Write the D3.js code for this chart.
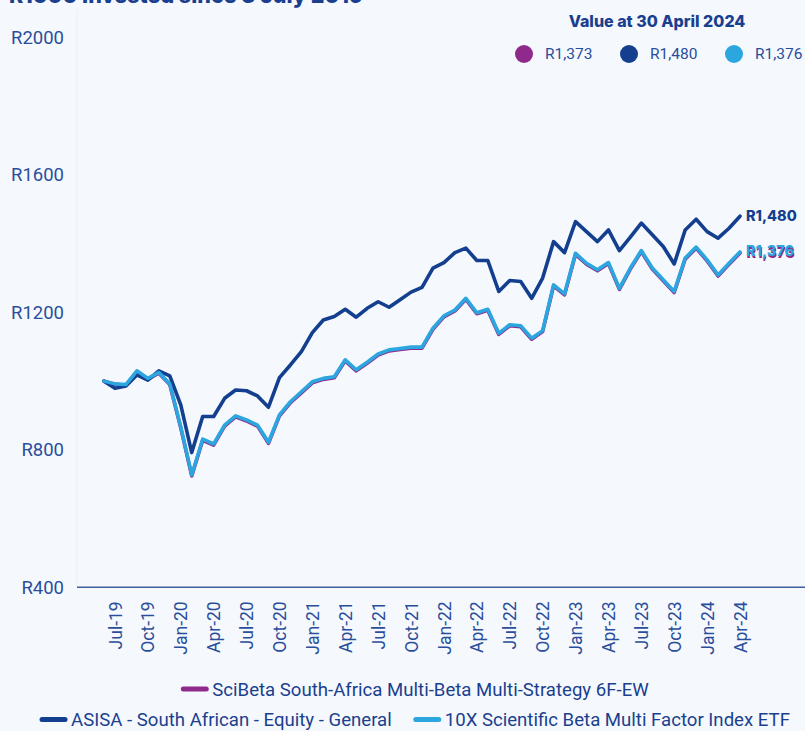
<!DOCTYPE html>
<html>
<head>
<meta charset="utf-8">
<script src="https://cdn.jsdelivr.net/npm/d3@7"></script>
<style>
  html, body { margin: 0; padding: 0; background: #f5f9fe; }
  svg { display: block; }
</style>
</head>
<body>
<div id="chart"></div>
<script>
// monthly values of R1000 invested, Jun-19 .. Apr-24
const months = d3.timeMonth.range(new Date(2019, 5, 1), new Date(2024, 4, 1)).map(d3.timeFormat('%b-%y'));

const scibeta = [1000, 991, 988, 1028, 1006, 1023, 990, 864, 724, 828, 814, 869, 896, 884, 869, 819, 899, 937, 966, 995,
  1005, 1010, 1059, 1030, 1052, 1076, 1088, 1092, 1096, 1096, 1151, 1187, 1204, 1238, 1196, 1206, 1136, 1161, 1158, 1122,
  1144, 1277, 1251, 1369, 1340, 1321, 1342, 1267, 1326, 1377, 1326, 1292, 1258, 1355, 1387, 1350, 1306, 1340, 1373];
const asisa = [1000, 979, 986, 1018, 1003, 1030, 1015, 931, 792, 897, 897, 950, 974, 972, 957, 924, 1010, 1047, 1086, 1141,
  1178, 1188, 1209, 1186, 1212, 1231, 1215, 1237, 1259, 1273, 1329, 1345, 1374, 1387, 1351, 1351, 1261, 1293, 1290, 1241,
  1300, 1406, 1374, 1464, 1435, 1406, 1440, 1380, 1419, 1460, 1426, 1392, 1341, 1440, 1471, 1435, 1416, 1445, 1480];
const tenx = [1000, 992, 990, 1030, 1008, 1025, 992, 867, 727, 831, 817, 872, 899, 887, 872, 822, 902, 940, 969, 998,
  1008, 1013, 1062, 1033, 1055, 1079, 1091, 1095, 1099, 1099, 1154, 1190, 1207, 1241, 1199, 1209, 1139, 1164, 1161, 1125,
  1147, 1280, 1254, 1372, 1343, 1324, 1345, 1270, 1329, 1380, 1329, 1295, 1261, 1358, 1390, 1353, 1309, 1343, 1376];

const yTicks = [400, 800, 1200, 1600, 2000];
const seriesNames = ['SciBeta South-Africa Multi-Beta Multi-Strategy 6F-EW', 'ASISA - South African - Equity - General', '10X Scientific Beta Multi Factor Index ETF'];
const seriesColors = ['#8f2a8c', '#133f8e', '#2ba6df'];
const series = [scibeta, asisa, tenx];

const W = 805, H = 731;
const navy = '#1b3f8f';
const textBlue = '#2a4e9b';

const svg = d3.select('#chart').append('svg').attr('width', W).attr('height', H);
svg.append('rect').attr('width', W).attr('height', H).attr('fill', '#f5f9fe');

// title, partly cut off at the top
svg.append('text')
  .attr('x', 9).attr('y', 3)
  .attr('font-family', 'Inter, sans-serif').attr('font-weight', 800).attr('font-size', 21.5)
  .attr('fill', navy)
  .text('R1000 invested since 3 July 2019');

const x = d3.scalePoint().domain(months).range([104, 740]);
const y = d3.scaleLinear().domain([400, 2000]).range([587.3, 37.5]);

// faint plot border
svg.append('line').attr('x1', 77).attr('x2', 77).attr('y1', 10).attr('y2', 587)
  .attr('stroke', '#ebf1f9').attr('stroke-width', 1);

// y axis labels
const yAxis = svg.append('g').attr('transform', 'translate(64,0)')
  .call(d3.axisLeft(y).tickValues(yTicks).tickSize(0).tickPadding(0).tickFormat(d => 'R' + d));
yAxis.select('.domain').remove();
yAxis.selectAll('text').attr('font-family', 'Roboto, sans-serif').attr('font-size', 18.5).attr('fill', textBlue);

// x axis
svg.append('line').attr('x1', 77).attr('x2', W).attr('y1', 587.3).attr('y2', 587.3)
  .attr('stroke', '#3f5f9e').attr('stroke-width', 1.5);
const xAxis = svg.append('g').attr('transform', 'translate(0,587.3)')
  .call(d3.axisBottom(x).tickValues(months.filter((m, i) => i % 3 === 1)).tickSize(0));
xAxis.select('.domain').remove();
xAxis.selectAll('text')
  .attr('font-family', 'Roboto, sans-serif').attr('font-size', 17.5).attr('fill', textBlue)
  .attr('transform', 'rotate(-90)')
  .attr('x', -14).attr('y', 0).attr('dy', '0.35em')
  .style('text-anchor', 'end');

// lines
const line = d3.line().x((d, i) => x(months[i])).y(d => y(d));
series.forEach((s, k) => {
  svg.append('path').datum(s)
    .attr('fill', 'none').attr('stroke', seriesColors[k]).attr('stroke-width', 3.6)
    .attr('stroke-linejoin', 'round').attr('stroke-linecap', 'round')
    .attr('d', line);
});

// end labels (SciBeta label sits just under the 10X one)
const last = months.length - 1;
const endLabels = [
  { v: scibeta[last], dx: 0.6, dy: 0.2, c: seriesColors[0] },
  { v: asisa[last], dx: 0, dy: 0, c: seriesColors[1] },
  { v: tenx[last], dx: 0, dy: -0.6, c: seriesColors[2] }
];
endLabels.forEach(e => {
  svg.append('text')
    .attr('x', x(months[last]) + 6 + e.dx).attr('y', y(e.v) + e.dy).attr('dy', '0.35em')
    .attr('font-family', 'Inter, sans-serif').attr('font-weight', 800).attr('font-size', 14.5)
    .attr('fill', e.c)
    .text('R' + d3.format(',')(e.v));
});

// top legend: value at 30 April 2024
svg.append('text')
  .attr('x', 657).attr('y', 21).attr('dy', '0.35em').attr('text-anchor', 'middle')
  .attr('font-family', 'Inter, sans-serif').attr('font-weight', 800).attr('font-size', 16)
  .attr('fill', navy)
  .text('Value at 30 April 2024');
const topLeg = [524, 629, 734];
series.forEach((s, k) => {
  svg.append('circle').attr('cx', topLeg[k]).attr('cy', 54).attr('r', 9).attr('fill', seriesColors[k]);
  svg.append('text')
    .attr('x', topLeg[k] + 21).attr('y', 54).attr('dy', '0.35em')
    .attr('font-family', 'Roboto, sans-serif').attr('font-size', 15.5).attr('fill', textBlue)
    .text('R' + d3.format(',')(s[last]));
});

// bottom legend
const legRows = [
  { items: [0], y: 689 },
  { items: [1, 2], y: 719.5 }
];
legRows.forEach(row => {
  const g = svg.append('g');
  let cx = 0;
  row.items.forEach(k => {
    g.append('line').attr('x1', cx + 2).attr('x2', cx + 25).attr('y1', row.y).attr('y2', row.y)
      .attr('stroke', seriesColors[k]).attr('stroke-width', 5).attr('stroke-linecap', 'round');
    const t = g.append('text').attr('x', cx + 31).attr('y', row.y).attr('dy', '0.35em')
      .attr('font-family', 'Roboto, sans-serif').attr('font-size', 18.6).attr('fill', navy)
      .text(seriesNames[k]);
    cx += 31 + t.node().getComputedTextLength() + 22;
  });
  const w = cx - 22;
  g.attr('transform', 'translate(' + (415 - w / 2) + ',0)');
});
</script>
</body>
</html>
